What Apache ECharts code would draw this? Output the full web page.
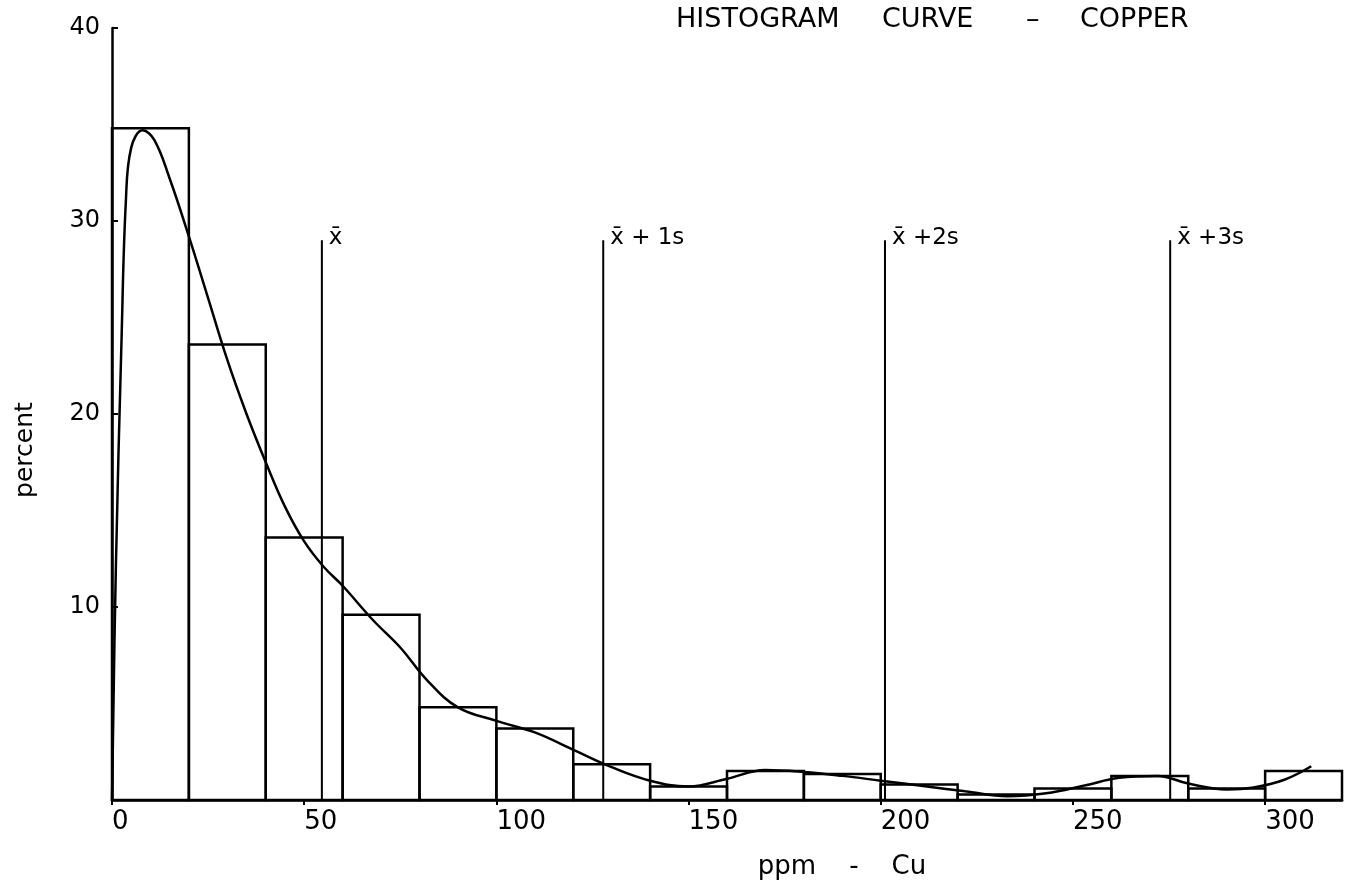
<!DOCTYPE html>
<html>
<head>
<meta charset="utf-8">
<title>Histogram curve - copper</title>
<script src="https://cdn.jsdelivr.net/npm/echarts@6/dist/echarts.min.js"></script>
<style>
  html, body { margin: 0; padding: 0; background: #fff; }
  #chart { width: 1354px; height: 891px; }
</style>
</head>
<body>
<div id="chart"></div>
<script>
// histogram bins (ppm Cu, 20 ppm wide) and their share in percent
const binLow = [0, 20, 40, 60, 80, 100, 120, 140, 160, 180, 200, 220, 240, 260, 280, 300]
const binHigh = [20, 40, 60, 80, 100, 120, 140, 160, 180, 200, 220, 240, 260, 280, 300, 320]
const binPercent = [34.8, 23.6, 13.6, 9.6, 4.8, 3.7, 1.85, 0.7, 1.5, 1.35, 0.8, 0.28, 0.6, 1.25, 0.6, 1.5]

// hand-drawn smoothed curve
const curveX = [0, 1, 2.5, 3.6, 5, 8, 11, 15, 20, 25, 30, 35, 40, 45, 50, 55, 60, 68, 75, 82, 90, 100, 110, 120, 130, 140, 150, 160, 170, 180, 190, 200, 212, 222, 233, 243, 253, 262, 272, 280, 290, 297, 305, 312]
const curveY = [0, 12, 24, 31, 33.8, 34.7, 34.2, 32.2, 29.2, 26.0, 22.8, 20.0, 17.5, 15.2, 13.4, 12.1, 11.1, 9.3, 7.9, 6.2, 4.8, 4.1, 3.5, 2.6, 1.7, 1.0, 0.7, 1.1, 1.55, 1.45, 1.25, 1.0, 0.7, 0.45, 0.2, 0.35, 0.75, 1.15, 1.25, 0.85, 0.55, 0.65, 1.05, 1.75]

// mean and standard deviation markers
const statValues = [54.6, 127.8, 201.1, 275.3]
const statLabels = ['x\u0304', 'x\u0304 + 1s', 'x\u0304 +2s', 'x\u0304 +3s']
const statTop = 29

const xTicks = [0, 50, 100, 150, 200, 250, 300]

const FONT = '"DejaVu Sans", "Liberation Sans", sans-serif'

const chart = echarts.init(document.getElementById('chart'))

chart.setOption({
  animation: false,
  backgroundColor: '#fff',
  grid: {
    left: 112,
    right: 12,
    top: 28,
    bottom: 91,
    outerBoundsMode: 'none'
  },
  graphic: [
    { type: 'text', left: 676, top: 6, style: { text: 'HISTOGRAM', font: '27px ' + FONT, fill: '#000' } },
    { type: 'text', left: 882, top: 6, style: { text: 'CURVE', font: '27px ' + FONT, fill: '#000' } },
    { type: 'text', left: 1026, top: 6, style: { text: '\u2013', font: '27px ' + FONT, fill: '#000' } },
    { type: 'text', left: 1080, top: 6, style: { text: 'COPPER', font: '27px ' + FONT, fill: '#000' } }
  ],
  xAxis: {
    type: 'value',
    min: 0,
    max: 320,
    name: 'ppm    -    Cu',
    nameLocation: 'middle',
    nameGap: 54,
    nameTextStyle: {
      color: '#000',
      fontFamily: FONT,
      fontSize: 26,
      padding: [0, 0, 0, 230]
    },
    axisLine: { lineStyle: { color: '#000', width: 2.5 } },
    axisTick: {
      customValues: xTicks,
      length: 5,
      lineStyle: { color: '#000', width: 2 }
    },
    axisLabel: {
      customValues: xTicks,
      color: '#000',
      fontFamily: FONT,
      fontSize: 26,
      align: 'left',
      margin: 9
    },
    splitLine: { show: false }
  },
  yAxis: {
    type: 'value',
    min: 0,
    max: 40,
    interval: 10,
    name: 'percent',
    nameLocation: 'middle',
    nameRotate: 90,
    nameGap: 74,
    nameTextStyle: {
      color: '#000',
      fontFamily: FONT,
      fontSize: 25,
      padding: [0, 72, 0, 0]
    },
    axisLine: { show: true, lineStyle: { color: '#000', width: 2.5 } },
    axisTick: {
      show: true,
      inside: true,
      length: 6,
      lineStyle: { color: '#000', width: 2 }
    },
    axisLabel: {
      color: '#000',
      fontFamily: FONT,
      fontSize: 24,
      margin: 12,
      padding: [0, 0, 12, 0],
      showMinLabel: false
    },
    splitLine: { show: false }
  },
  series: [{
    name: 'histogram',
    type: 'custom',
    data: binLow.map((lo, i) => [lo, binHigh[i], binPercent[i]]),
    encode: { x: [0, 1], y: 2 },
    renderItem(params, api) {
      const topLeft = api.coord([api.value(0), api.value(2)])
      const bottomRight = api.coord([api.value(1), 0])
      return {
        type: 'rect',
        shape: {
          x: topLeft[0],
          y: topLeft[1],
          width: bottomRight[0] - topLeft[0],
          height: bottomRight[1] - topLeft[1]
        },
        style: { fill: 'none', stroke: '#000', lineWidth: 2.5 }
      }
    }
  }, {
    name: 'curve',
    type: 'line',
    smooth: 0.4,
    showSymbol: false,
    data: curveX.map((x, i) => [x, curveY[i]]),
    lineStyle: { color: '#000', width: 2.5 }
  }, {
    name: 'stats',
    type: 'custom',
    data: statValues.map((v, i) => [v, statTop, statLabels[i]]),
    encode: { x: 0, y: 1 },
    renderItem(params, api) {
      const top = api.coord([api.value(0), api.value(1)])
      const base = api.coord([api.value(0), 0])
      return {
        type: 'group',
        children: [{
          type: 'line',
          shape: { x1: base[0], y1: base[1], x2: top[0], y2: top[1] },
          style: { stroke: '#000', lineWidth: 2 }
        }, {
          type: 'text',
          x: top[0] + 7,
          y: top[1] + 9,
          style: {
            text: statLabels[params.dataIndex],
            font: '23px ' + FONT,
            fill: '#000',
            align: 'left',
            verticalAlign: 'bottom'
          }
        }]
      }
    }
  }]
})
</script>
</body>
</html>
